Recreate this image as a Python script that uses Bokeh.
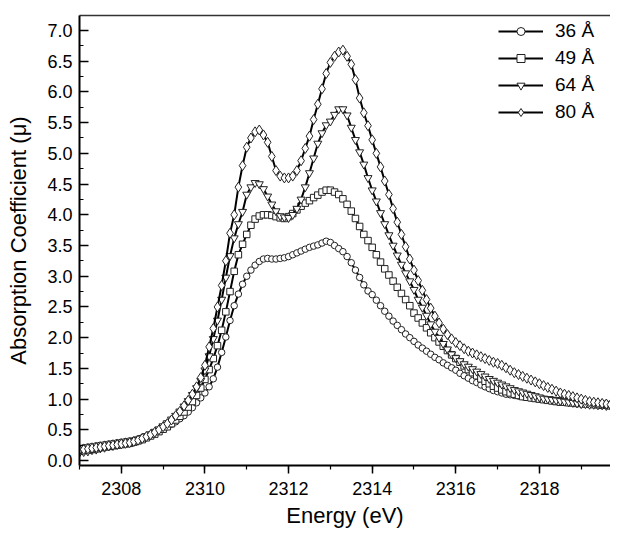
import numpy as np
from bokeh.plotting import figure
from bokeh.models import (Range1d, SingleIntervalTicker, NumeralTickFormatter, Legend,
                          LegendItem, LinearAxis, FixedTicker)
from bokeh.embed import file_html
from bokeh.resources import INLINE

# sampling grid of the measurement (eV)
E_START = 2307.0
E_STEP = 0.1

a36 = [0.20,0.21,0.22,0.23,0.24,0.25,0.26,0.27,0.28,0.29,
       0.30,0.31,0.32,0.33,0.35,0.37,0.39,0.42,0.45,0.48,
       0.51,0.55,0.59,0.63,0.68,0.73,0.79,0.86,0.94,1.02,
       1.10,1.20,1.33,1.52,1.76,2.01,2.28,2.52,2.71,2.87,
       3.00,3.10,3.18,3.24,3.28,3.29,3.28,3.28,3.29,3.30,
       3.32,3.35,3.38,3.41,3.44,3.47,3.49,3.51,3.54,3.57,
       3.55,3.50,3.45,3.40,3.32,3.22,3.10,2.98,2.86,2.76,
       2.70,2.61,2.52,2.43,2.35,2.27,2.20,2.13,2.06,2.00,
       1.94,1.88,1.83,1.78,1.73,1.68,1.64,1.59,1.55,1.51,
       1.47,1.42,1.38,1.34,1.30,1.27,1.23,1.20,1.17,1.14,
       1.12,1.10,1.08,1.07,1.06,1.05,1.04,1.03,1.02,1.01,
       1.00,1.00,0.99,0.99,0.98,0.98,0.97,0.97,0.96,0.96,
       0.95,0.95,0.94,0.94,0.93,0.93,0.92,0.92,0.91]

a49 = [0.15,0.16,0.17,0.18,0.19,0.21,0.22,0.23,0.24,0.25,
       0.26,0.27,0.28,0.30,0.32,0.34,0.37,0.40,0.43,0.47,
       0.51,0.55,0.60,0.66,0.72,0.79,0.87,0.96,1.06,1.18,
       1.32,1.48,1.66,1.87,2.12,2.42,2.75,3.08,3.35,3.52,
       3.68,3.83,3.93,3.98,4.00,4.00,3.99,3.97,3.95,3.94,
       3.97,4.02,4.08,4.14,4.19,4.23,4.28,4.32,4.37,4.40,
       4.40,4.37,4.33,4.26,4.17,4.06,3.94,3.81,3.68,3.58,
       3.47,3.35,3.23,3.12,3.02,2.92,2.82,2.72,2.62,2.52,
       2.40,2.32,2.24,2.16,2.08,2.00,1.93,1.86,1.79,1.72,
       1.66,1.60,1.54,1.48,1.43,1.38,1.33,1.29,1.25,1.21,
       1.18,1.15,1.12,1.10,1.08,1.06,1.04,1.03,1.02,1.01,
       1.00,0.99,0.98,0.97,0.96,0.95,0.95,0.94,0.94,0.93,
       0.93,0.92,0.92,0.91,0.91,0.90,0.90,0.89,0.89]

a64 = [0.13,0.14,0.15,0.17,0.18,0.20,0.21,0.23,0.24,0.26,
       0.27,0.28,0.30,0.32,0.34,0.37,0.40,0.43,0.47,0.51,
       0.56,0.61,0.67,0.73,0.80,0.88,0.97,1.07,1.18,1.30,
       1.47,1.70,1.98,2.28,2.62,2.98,3.33,3.62,3.85,4.05,
       4.33,4.45,4.52,4.50,4.42,4.30,4.17,4.06,3.98,3.96,
       3.95,4.00,4.10,4.25,4.45,4.68,4.92,5.16,5.33,5.46,
       5.52,5.63,5.72,5.72,5.62,5.42,5.22,5.02,4.82,4.60,
       4.40,4.22,4.03,3.85,3.67,3.50,3.34,3.19,3.05,2.92,
       2.78,2.62,2.49,2.36,2.22,2.10,2.00,1.90,1.81,1.73,
       1.67,1.62,1.57,1.53,1.49,1.45,1.41,1.37,1.33,1.30,
       1.27,1.24,1.21,1.18,1.15,1.13,1.11,1.09,1.07,1.05,
       1.03,1.01,1.00,0.99,0.98,0.97,0.96,0.95,0.94,0.93,
       0.92,0.92,0.91,0.91,0.90,0.90,0.89,0.89,0.88]

a80 = [0.17,0.18,0.19,0.20,0.21,0.22,0.23,0.24,0.25,0.26,
       0.27,0.28,0.29,0.31,0.33,0.36,0.39,0.42,0.46,0.50,
       0.55,0.60,0.66,0.73,0.80,0.89,0.98,1.08,1.20,1.35,
       1.55,1.85,2.15,2.50,2.85,3.25,3.70,4.00,4.45,4.80,
       5.10,5.25,5.35,5.38,5.30,5.18,4.95,4.72,4.63,4.60,
       4.60,4.63,4.72,4.88,5.08,5.28,5.55,5.80,6.05,6.30,
       6.48,6.58,6.65,6.68,6.58,6.45,6.20,5.90,5.66,5.45,
       5.22,5.00,4.78,4.55,4.33,4.10,3.88,3.68,3.48,3.28,
       3.10,2.93,2.77,2.62,2.48,2.35,2.24,2.14,2.05,1.98,
       1.92,1.87,1.82,1.78,1.75,1.72,1.69,1.66,1.63,1.60,
       1.58,1.55,1.51,1.47,1.43,1.40,1.37,1.34,1.31,1.28,
       1.25,1.22,1.19,1.16,1.13,1.10,1.08,1.06,1.04,1.02,
       1.00,0.98,0.96,0.95,0.94,0.93,0.92,0.91,0.90]

labels = ["36 Å", "49 Å", "64 Å", "80 Å"]
series = [a36, a49, a64, a80]
markers = ["circle", "square", "inverted_triangle", "diamond"]
msizes = [6.5, 6.5, 8, 10]

energy = [round(E_START + i * E_STEP, 2) for i in range(len(a36))]

FONT = "Liberation Sans"

p = figure(frame_width=531, frame_height=450, output_backend="svg", toolbar_location=None,
           x_range=Range1d(2307.0, 2319.70), y_range=Range1d(-0.081, 7.244),
           min_border_left=79, min_border_right=0, min_border_top=15, min_border_bottom=66)
p.xgrid.visible = False
p.ygrid.visible = False
p.outline_line_color = None
p.background_fill_color = "white"

xa = p.xaxis[0]
xa.ticker = SingleIntervalTicker(interval=2, num_minor_ticks=2)
xa.formatter = NumeralTickFormatter(format="0")
xa.axis_label = "Energy (eV)"
xa.major_tick_in = 0
xa.major_tick_out = 8
xa.minor_tick_in = 0
xa.minor_tick_out = 4
xa.major_label_standoff = 8
xa.axis_label_standoff = 5

ya = p.yaxis[0]
ya.ticker = SingleIntervalTicker(interval=0.5, num_minor_ticks=2)
ya.formatter = NumeralTickFormatter(format="0.0")
ya.axis_label = "Absorption Coefficient (μ)"
ya.major_tick_in = 9
ya.major_tick_out = 0
ya.minor_tick_in = 4
ya.minor_tick_out = 0
ya.major_label_standoff = 7
ya.axis_label_standoff = 13

for ax in (xa, ya):
    ax.axis_line_width = 2
    ax.axis_line_color = "black"
    ax.major_tick_line_width = 1.5
    ax.minor_tick_line_width = 1.2
    ax.major_label_text_font = FONT
    ax.major_label_text_font_size = "18px"
    ax.major_label_text_color = "black"
    ax.axis_label_text_font = FONT
    ax.axis_label_text_font_size = "22px"
    ax.axis_label_text_font_style = "normal"
    ax.axis_label_text_color = "black"

top = LinearAxis(ticker=FixedTicker(ticks=[]), major_label_text_font_size="0px",
                 major_tick_out=0, major_tick_in=0, minor_tick_out=0, minor_tick_in=0,
                 major_label_standoff=0, axis_line_width=1.5, axis_line_color="#333333")
p.add_layout(top, "above")

items = []
for lab, ys, mk, ms in zip(labels, series, markers, msizes):
    lr = p.line(energy, ys, line_color="black", line_width=2)
    sr = p.scatter(energy, ys, marker=mk, size=ms, fill_color="white",
                   line_color="#222222", line_width=1)
    items.append(LegendItem(label=lab, renderers=[lr, sr]))

legend = Legend(items=items, location=(419, 342), border_line_color=None,
                background_fill_alpha=0, padding=0, margin=0, glyph_width=45,
                glyph_height=20, label_height=20, spacing=5, label_standoff=12,
                label_text_font=FONT, label_text_font_size="19px",
                label_text_color="black")
p.add_layout(legend)

open("out.html", "w").write(file_html(p, INLINE))
